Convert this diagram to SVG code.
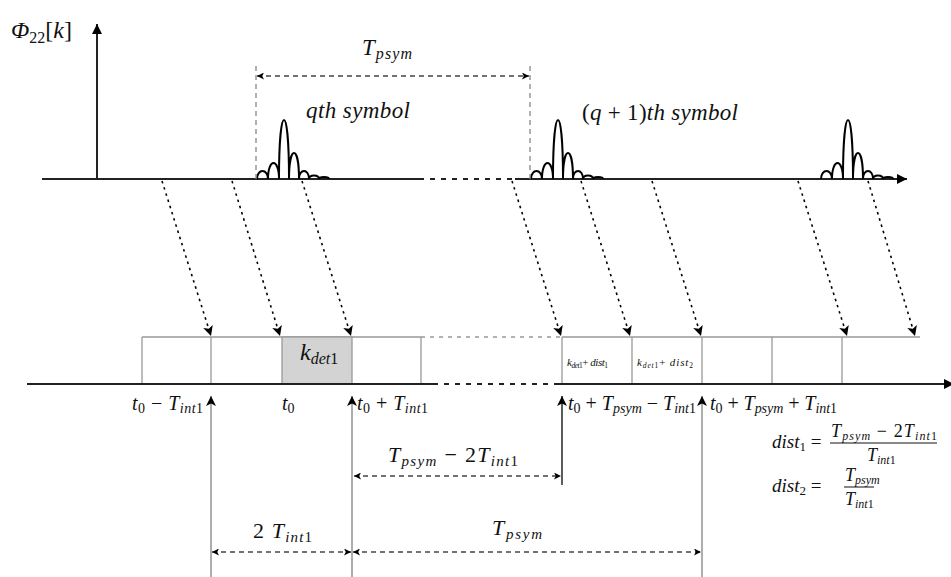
<svg xmlns="http://www.w3.org/2000/svg" xmlns:xlink="http://www.w3.org/1999/xlink" width="951" height="577" viewBox="0 0 951 577" font-family="'Liberation Serif', 'DejaVu Serif', serif">
<style>
text { font-family: 'Liberation Serif', 'DejaVu Serif', serif; }
.m { fill: #111; }
.i { font-style: italic; }
.axis { stroke: #222; stroke-width: 2; fill: none; }
.axisd { stroke: #222; stroke-width: 2; fill: none; stroke-dasharray: 5 6; }
.pulse { stroke: #000; stroke-width: 2; fill: none; }
.guide { stroke: #888; stroke-width: 1.3; fill: none; stroke-dasharray: 5 4; }
.dim { stroke: #444; stroke-width: 1.3; fill: none; stroke-dasharray: 5 4; marker-start: url(#ahs); marker-end: url(#ahs); }
.dot { stroke: #000; stroke-width: 1.6; fill: none; stroke-dasharray: 2.5 4; marker-end: url(#ah); }
.cell { stroke: #999; stroke-width: 1.3; fill: none; }
.celld { stroke: #999; stroke-width: 1.3; fill: none; stroke-dasharray: 4 5; }
.up { stroke: #999; stroke-width: 1.6; fill: none; marker-end: url(#ah); }
</style>
<defs>
<marker id="ah" viewBox="0 0 10 10" refX="10" refY="5" markerWidth="11" markerHeight="10" markerUnits="userSpaceOnUse" orient="auto-start-reverse">
<path d="M0,0 L10,5 L0,10 L2.5,5 Z" fill="#000"/>
</marker>
<marker id="ahb" viewBox="0 0 10 10" refX="10" refY="5" markerWidth="12" markerHeight="10" markerUnits="userSpaceOnUse" orient="auto-start-reverse">
<path d="M0,0 L10,5 L0,10 Z" fill="#000"/>
</marker>
<marker id="ahs" viewBox="0 0 10 10" refX="10" refY="5" markerWidth="8" markerHeight="7" markerUnits="userSpaceOnUse" orient="auto-start-reverse">
<path d="M0,0 L10,5 L0,10 L2.5,5 Z" fill="#000"/>
</marker>
<path id="sinc" class="pulse" d="M-27,0 C-27,-10.6 -16,-10.6 -16,0 C-16,-21.3 -5,-21.3 -5,0 C-5,-78.7 5,-78.7 5,0 C5,-34.7 15,-34.7 15,0 C15,-10.6 25,-10.6 25,0 C25,-4.7 35,-4.7 35,0 C35,-2.7 45,-2.7 45,0"/>
</defs>

<g id="top-plot">
  <line class="axis" x1="97" y1="179" x2="97" y2="24" marker-end="url(#ahb)"/>
  <line class="axis" x1="42" y1="179" x2="419" y2="179"/>
  <line class="axisd" x1="419" y1="179" x2="515" y2="179"/>
  <line class="axis" x1="515" y1="179" x2="907" y2="179" marker-end="url(#ahb)"/>
  <text class="m" x="11" y="38" font-size="24"><tspan class="i">Φ</tspan><tspan font-size="16" dy="5">22</tspan><tspan dy="-5">[</tspan><tspan class="i">k</tspan>]</text>
</g>

<g id="pulse-q"><use xlink:href="#sinc" href="#sinc" x="284" y="179"/>
  <text class="m i" x="306" y="118" font-size="23" textLength="104" lengthAdjust="spacing">qth symbol</text>
</g>
<g id="pulse-q1"><use xlink:href="#sinc" href="#sinc" x="558" y="179"/>
  <text class="m" x="582" y="120" font-size="23" textLength="156" lengthAdjust="spacing">(<tspan class="i">q</tspan> + 1)<tspan class="i">th symbol</tspan></text>
</g>
<g id="pulse-q2"><use xlink:href="#sinc" href="#sinc" x="848" y="179"/></g>

<g id="tpsym-top">
  <line class="guide" x1="256" y1="66" x2="256" y2="179"/>
  <line class="guide" x1="530" y1="66" x2="530" y2="179"/>
  <line class="dim" x1="257" y1="76" x2="529" y2="76"/>
  <text class="m" x="362" y="55" font-size="23" textLength="50" lengthAdjust="spacing"><tspan class="i">T</tspan><tspan class="i" font-size="16" dy="4">psym</tspan></text>
</g>

<g id="grid">
  <line class="cell" x1="142" y1="337" x2="421" y2="337"/>
  <line class="celld" x1="421" y1="337" x2="562" y2="337"/>
  <line class="cell" x1="562" y1="337" x2="920" y2="337"/>
  <rect x="282" y="337" width="70" height="47" fill="#d3d3d3" stroke="#999" stroke-width="1.3"/>
  <line class="cell" x1="142" y1="337" x2="142" y2="384"/>
  <line class="cell" x1="211" y1="337" x2="211" y2="384"/>
  <line class="cell" x1="421" y1="337" x2="421" y2="384"/>
  <line class="cell" x1="562" y1="337" x2="562" y2="384"/>
  <line class="cell" x1="632" y1="337" x2="632" y2="384"/>
  <line class="cell" x1="702" y1="337" x2="702" y2="384"/>
  <line class="cell" x1="772" y1="337" x2="772" y2="384"/>
  <line class="cell" x1="842" y1="337" x2="842" y2="384"/>
  <line class="axis" x1="27" y1="384" x2="433" y2="384"/>
  <line class="axisd" x1="433" y1="384" x2="555" y2="384"/>
  <line class="axis" x1="555" y1="384" x2="954" y2="384" marker-end="url(#ahb)"/>
</g>

<g id="kdet1">
  <text class="m" x="300" y="360" font-size="24"><tspan class="i">k</tspan><tspan class="i" font-size="16" dy="4">det</tspan><tspan font-size="16">1</tspan></text>
</g>
<g id="cell-dist1">
  <text class="m" x="567" y="366" font-size="11" textLength="41" lengthAdjust="spacing"><tspan class="i">k</tspan><tspan class="i" font-size="7.5" dy="2">det</tspan><tspan font-size="7.5">1</tspan><tspan dy="-2">+ </tspan><tspan class="i">dist</tspan><tspan font-size="7.5" dy="2">1</tspan></text>
</g>
<g id="cell-dist2">
  <text class="m" x="637" y="366" font-size="11" textLength="56" lengthAdjust="spacing"><tspan class="i">k</tspan><tspan class="i" font-size="7.5" dy="2">det</tspan><tspan font-size="7.5">1</tspan><tspan dy="-2">+ </tspan><tspan class="i">dist</tspan><tspan font-size="7.5" dy="2">2</tspan></text>
</g>

<g id="labels">
  <text class="m" x="132" y="410" font-size="20" textLength="71" lengthAdjust="spacing"><tspan class="i">t</tspan><tspan font-size="14" dy="3">0</tspan><tspan dy="-3"> − </tspan><tspan class="i">T</tspan><tspan class="i" font-size="14" dy="3">int</tspan><tspan font-size="14">1</tspan></text>
  <text class="m" x="282" y="410" font-size="20"><tspan class="i">t</tspan><tspan font-size="14" dy="3">0</tspan></text>
  <text class="m" x="357" y="410" font-size="20" textLength="71" lengthAdjust="spacing"><tspan class="i">t</tspan><tspan font-size="14" dy="3">0</tspan><tspan dy="-3"> + </tspan><tspan class="i">T</tspan><tspan class="i" font-size="14" dy="3">int</tspan><tspan font-size="14">1</tspan></text>
  <text class="m" x="568" y="410" font-size="20" textLength="128" lengthAdjust="spacing"><tspan class="i">t</tspan><tspan font-size="14" dy="3">0</tspan><tspan dy="-3"> + </tspan><tspan class="i">T</tspan><tspan class="i" font-size="14" dy="3">psym</tspan><tspan dy="-3"> − </tspan><tspan class="i">T</tspan><tspan class="i" font-size="14" dy="3">int</tspan><tspan font-size="14">1</tspan></text>
  <text class="m" x="710" y="410" font-size="20" textLength="127" lengthAdjust="spacing"><tspan class="i">t</tspan><tspan font-size="14" dy="3">0</tspan><tspan dy="-3"> + </tspan><tspan class="i">T</tspan><tspan class="i" font-size="14" dy="3">psym</tspan><tspan dy="-3"> + </tspan><tspan class="i">T</tspan><tspan class="i" font-size="14" dy="3">int</tspan><tspan font-size="14">1</tspan></text>
</g>

<g id="connectors">
  <line class="dot" x1="162" y1="181" x2="211" y2="336"/>
  <line class="dot" x1="232" y1="181" x2="280" y2="336"/>
  <line class="dot" x1="302" y1="181" x2="351" y2="336"/>
  <line class="dot" x1="512" y1="181" x2="561" y2="336"/>
  <line class="dot" x1="581" y1="181" x2="630" y2="336"/>
  <line class="dot" x1="652" y1="181" x2="701" y2="336"/>
  <line class="dot" x1="798" y1="181" x2="847" y2="336"/>
  <line class="dot" x1="868" y1="181" x2="915" y2="336"/>
  <line class="up" x1="211" y1="577" x2="211" y2="396"/>
  <line class="up" x1="352" y1="577" x2="352" y2="396"/>
  <line class="up" x1="702" y1="577" x2="702" y2="396"/>
  <line class="up" x1="562" y1="485" x2="562" y2="396" style="stroke:#333"/>
</g>

<g id="dims">
  <line class="dim" x1="354" y1="476" x2="561" y2="476"/>
  <text class="m" x="388" y="462" font-size="22" textLength="130" lengthAdjust="spacing"><tspan class="i">T</tspan><tspan class="i" font-size="15" dy="4">psym</tspan><tspan dy="-4"> − 2</tspan><tspan class="i">T</tspan><tspan class="i" font-size="15" dy="4">int</tspan><tspan font-size="15">1</tspan></text>
  <line class="dim" x1="212" y1="552" x2="351" y2="552"/>
  <text class="m" x="253" y="538" font-size="22" textLength="59" lengthAdjust="spacing">2 <tspan class="i">T</tspan><tspan class="i" font-size="15" dy="4">int</tspan><tspan font-size="15">1</tspan></text>
  <line class="dim" x1="353" y1="552" x2="701" y2="552"/>
  <text class="m" x="492" y="535" font-size="22" textLength="50" lengthAdjust="spacing"><tspan class="i">T</tspan><tspan class="i" font-size="15" dy="4">psym</tspan></text>
</g>

<g id="formulas">
  <text class="m" x="772" y="448" font-size="19"><tspan class="i">dist</tspan><tspan font-size="13" dy="3">1</tspan><tspan dy="-3"> =</tspan></text>
  <text class="m" x="831" y="437" font-size="18" textLength="106" lengthAdjust="spacing"><tspan class="i">T</tspan><tspan class="i" font-size="12" dy="3">psym</tspan><tspan dy="-3"> − 2</tspan><tspan class="i">T</tspan><tspan class="i" font-size="12" dy="3">int</tspan><tspan font-size="12">1</tspan></text>
  <line x1="830" y1="443" x2="937" y2="443" stroke="#111" stroke-width="1"/>
  <text class="m" x="867" y="461" font-size="18"><tspan class="i">T</tspan><tspan class="i" font-size="12" dy="3">int</tspan><tspan font-size="12">1</tspan></text>
  <text class="m" x="772" y="492" font-size="19"><tspan class="i">dist</tspan><tspan font-size="13" dy="3">2</tspan><tspan dy="-3"> =</tspan></text>
  <text class="m" x="845" y="481" font-size="18"><tspan class="i">T</tspan><tspan class="i" font-size="12" dy="3">psym</tspan></text>
  <line x1="844" y1="487" x2="874" y2="487" stroke="#111" stroke-width="1"/>
  <text class="m" x="845" y="505" font-size="18"><tspan class="i">T</tspan><tspan class="i" font-size="12" dy="3">int</tspan><tspan font-size="12">1</tspan></text>
</g>
</svg>
